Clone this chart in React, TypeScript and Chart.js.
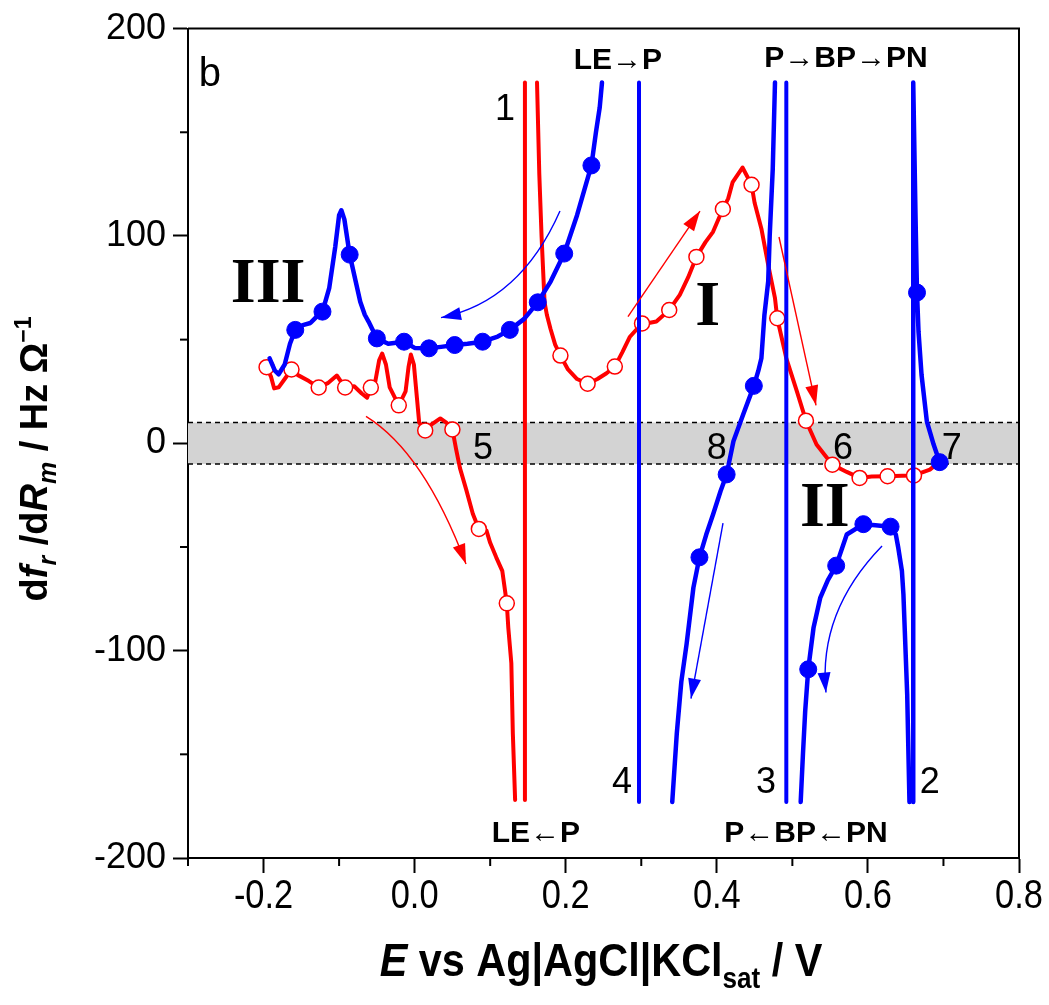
import React, { useEffect, useRef } from "react";
import { Chart, registerables } from "chart.js";
Chart.register(...registerables);

// ---------- axis ticks ----------
const xTickValues = [-0.2, 0, 0.2, 0.4, 0.6, 0.8];
const xMinorTicks = [-0.3, -0.1, 0.1, 0.3, 0.5, 0.7];
const yTickValues = [-200, -100, 0, 100, 200];
const yMinorTicks = [-150, -50, 50, 150];
const bandLimits = [-10, 10];

// ---------- red curve (open circles) ----------
const redLeftE = [-0.196, -0.19, -0.186, -0.18, -0.172, -0.163, -0.155, -0.14, -0.127, -0.115, -0.103, -0.092, -0.08, -0.07, -0.063, -0.058, -0.052, -0.047, -0.043, -0.038, -0.033, -0.021, -0.012, -0.008, -0.005, -0.001, 0.003, 0.006, 0.014, 0.022, 0.034, 0.042, 0.05, 0.055, 0.06, 0.068, 0.077, 0.085, 0.095, 0.1, 0.108, 0.116, 0.122, 0.124, 0.128, 0.13, 0.133];
const redLeftF = [36.7, 32, 26.5, 27, 31, 35.6, 33, 30, 26.9, 29, 32.7, 26.9, 27.5, 24, 22, 26.9, 30, 40, 43.3, 38, 27, 18.3, 25, 37, 42.8, 38, 22, 10, 6.2, 9, 12, 10, 6.7, -3, -12, -22, -34, -41.3, -42, -48, -55, -61.5, -77.2, -89, -106, -140, -172];
const redPoleE = [0.146, 0.146];
const redPoleF = [-172, 174];
const redRightE = [0.162, 0.165, 0.168, 0.172, 0.175, 0.18, 0.186, 0.193, 0.203, 0.215, 0.229, 0.242, 0.254, 0.265, 0.275, 0.285, 0.301, 0.31, 0.32, 0.337, 0.351, 0.362, 0.373, 0.385, 0.395, 0.408, 0.415, 0.421, 0.434, 0.446, 0.45, 0.459, 0.468, 0.477, 0.48, 0.492, 0.506, 0.518, 0.532, 0.553, 0.572, 0.589, 0.605, 0.626, 0.645, 0.661, 0.682, 0.693];
const redRightF = [174, 130, 100, 68, 62, 55, 47.6, 42.3, 35.6, 31, 28.7, 31, 33.8, 37, 44, 51.4, 57.8, 58, 58.7, 64.3, 71.6, 80, 89.9, 97, 102, 113, 118, 126, 133, 124.7, 116, 103.5, 86, 70, 60.3, 41, 25, 10.9, -0.6, -10.3, -13.8, -16.7, -16, -15.9, -15.7, -15.5, -12.7, -9.5];
const redMarkE = [-0.196, -0.163, -0.127, -0.092, -0.058, -0.021, 0.014, 0.05, 0.085, 0.122, 0.193, 0.229, 0.265, 0.301, 0.337, 0.373, 0.408, 0.446, 0.48, 0.518, 0.553, 0.589, 0.626, 0.661];
const redMarkF = [36.7, 35.6, 26.9, 26.9, 26.9, 18.3, 6.2, 6.7, -41.3, -77.2, 42.3, 28.7, 37, 57.8, 64.3, 89.9, 113, 124.7, 60.3, 10.9, -10.3, -16.7, -15.9, -15.5];

// ---------- blue curve (filled circles) ----------
const blueIIIE = [-0.192, -0.185, -0.18, -0.172, -0.165, -0.158, -0.148, -0.138, -0.13, -0.122, -0.113, -0.105, -0.1, -0.097, -0.093, -0.086, -0.078, -0.072, -0.066, -0.061, -0.05, -0.035, -0.014, 0.0, 0.019, 0.035, 0.053, 0.07, 0.09, 0.11, 0.126, 0.145, 0.163, 0.18, 0.198, 0.215, 0.234, 0.24, 0.245, 0.248];
const blueIIIF = [41, 35, 33.3, 38, 48, 54.7, 57, 58, 61, 63.5, 75, 95, 110, 112.4, 108, 91, 78, 68.3, 62, 58.7, 50.6, 48, 49, 46, 45.8, 46.5, 47.4, 48, 49, 51.5, 54.7, 60, 68, 78, 91.5, 110, 134, 150, 162, 174];
const bluePole1E = [0.297, 0.297];
const bluePole1F = [174, -173];
const blueMidE = [0.341, 0.347, 0.353, 0.36, 0.369, 0.377, 0.386, 0.395, 0.405, 0.413, 0.422, 0.435, 0.449, 0.455, 0.459, 0.463, 0.468, 0.47, 0.474, 0.477];
const blueMidF = [-173, -140, -115, -96.8, -69.6, -55, -44, -34.3, -23, -15, 1, 14, 27.7, 35, 41, 61.9, 78, 100, 132, 174];
const bluePole2E = [0.492, 0.492];
const bluePole2F = [174, -173];
const blueIIE = [0.511, 0.514, 0.517, 0.521, 0.528, 0.537, 0.547, 0.558, 0.572, 0.594, 0.61, 0.63, 0.637, 0.64, 0.645, 0.647, 0.652, 0.655];
const blueIIF = [-173, -150, -129, -109, -89, -74.4, -66, -59, -44, -39, -39.5, -40.2, -44, -50, -61.5, -72.7, -121, -173];
const blueEndE = [0.66, 0.66, 0.663, 0.665, 0.667, 0.671, 0.678, 0.687, 0.695];
const blueEndF = [-173, 174, 110, 72.7, 53.8, 33, 10.6, -0.6, -9.1];
const blueMarkE = [-0.158, -0.122, -0.086, -0.05, -0.014, 0.019, 0.053, 0.09, 0.126, 0.163, 0.198, 0.234, 0.377, 0.413, 0.449, 0.521, 0.558, 0.594, 0.63, 0.665, 0.695];
const blueMarkF = [54.7, 63.5, 91, 50.6, 49, 45.8, 47.4, 49, 54.7, 68, 91.5, 134, -55, -15, 27.7, -109, -59, -39, -40.2, 72.7, -9.1];

// ---------- annotation texts (data coordinates) ----------
const SANS = "'Liberation Sans', Arial, sans-serif";
const SERIF = "'Liberation Serif', 'Times New Roman', serif";

const textLabels = [
  { text: "b", x: -0.271, y: 172.1, font: `40px ${SANS}` },
  { text: "1", x: 0.1196, y: 155.8, font: `36px ${SANS}` },
  { text: "LE\u2192P", x: 0.269, y: 180.3, font: `bold 30px ${SANS}` },
  { text: "P\u2192BP\u2192PN", x: 0.571, y: 181.3, font: `bold 30px ${SANS}` },
  { text: "III", x: -0.194, y: 68.3, font: `bold 64px ${SERIF}` },
  { text: "I", x: 0.388, y: 57.2, font: `bold 64px ${SERIF}` },
  { text: "II", x: 0.543, y: -39.9, font: `bold 64px ${SERIF}` },
  { text: "5", x: 0.0905, y: -7.7, font: `36px ${SANS}` },
  { text: "8", x: 0.4, y: -7.7, font: `36px ${SANS}` },
  { text: "6", x: 0.567, y: -7.7, font: `36px ${SANS}` },
  { text: "7", x: 0.711, y: -7.7, font: `36px ${SANS}` },
  { text: "4", x: 0.2745, y: -168.8, font: `36px ${SANS}` },
  { text: "3", x: 0.465, y: -168.8, font: `36px ${SANS}` },
  { text: "2", x: 0.682, y: -168.8, font: `36px ${SANS}` },
  { text: "LE\u2190P", x: 0.1606, y: -192.3, font: `bold 30px ${SANS}` },
  { text: "P\u2190BP\u2190PN", x: 0.518, y: -192.3, font: `bold 30px ${SANS}` },
];

// arrows: start, optional control point, tip (data coordinates)
const arrows = [
  { color: "#0000ff", s: [0.1924, 112.0], c: [0.1395, 68.3], e: [0.0349, 60.6] },
  { color: "#ff0000", s: [0.2824, 61.1], c: null, e: [0.3777, 112.0] },
  { color: "#ff0000", s: [0.4823, 99.5], c: null, e: [0.5313, 18.3] },
  { color: "#ff0000", s: [-0.0644, 13.0], c: [0.0124, -4.3], e: [0.068, -58.2] },
  { color: "#0000ff", s: [0.4082, -38.5], c: null, e: [0.3658, -123.1] },
  { color: "#0000ff", s: [0.6187, -49.5], c: [0.5339, -81.3], e: [0.5445, -120.2] },
];

const RED = "#ff0000";
const BLUE = "#0000ff";

function pts(xs: number[], ys: number[]) {
  return xs.map((x, i) => ({ x, y: ys[i] }));
}

function lineSet(xs: number[], ys: number[], color: string, width: number, order: number) {
  return {
    type: "line" as const,
    data: pts(xs, ys),
    borderColor: color,
    borderWidth: width,
    pointRadius: 0,
    fill: false,
    tension: 0,
    borderJoinStyle: "round" as const,
    borderCapStyle: "round" as const,
    order,
  };
}

type Seg = { t: string; font: string; dy: number };

function drawRich(ctx: CanvasRenderingContext2D, segs: Seg[], cx: number, baseline: number, sx = 1) {
  let total = 0;
  const widths = segs.map((s) => {
    ctx.font = s.font;
    const w = ctx.measureText(s.t).width;
    total += w;
    return w;
  });
  ctx.save();
  ctx.translate(cx, baseline);
  ctx.scale(sx, 1);
  let x = -total / 2;
  ctx.textAlign = "left";
  ctx.textBaseline = "alphabetic";
  segs.forEach((s, i) => {
    ctx.font = s.font;
    ctx.fillText(s.t, x, s.dy);
    x += widths[i];
  });
  ctx.restore();
}

const decorPlugin = {
  id: "decor",
  beforeDatasetsDraw(chart: any) {
    const { ctx, chartArea, scales } = chart;
    const y1 = scales.y.getPixelForValue(bandLimits[1]);
    const y0 = scales.y.getPixelForValue(bandLimits[0]);
    ctx.save();
    ctx.fillStyle = "#d3d3d3";
    ctx.fillRect(chartArea.left, y1, chartArea.right - chartArea.left, y0 - y1);
    ctx.strokeStyle = "#000";
    ctx.lineWidth = 1.5;
    ctx.setLineDash([5, 4]);
    [y0, y1].forEach((yy) => {
      ctx.beginPath();
      ctx.moveTo(chartArea.left, yy);
      ctx.lineTo(chartArea.right, yy);
      ctx.stroke();
    });
    ctx.restore();
  },
  afterDatasetsDraw(chart: any) {
    const { ctx, scales } = chart;
    const X = (v: number) => scales.x.getPixelForValue(v);
    const Y = (v: number) => scales.y.getPixelForValue(v);
    ctx.save();
    arrows.forEach((a) => {
      const sx = X(a.s[0]), sy = Y(a.s[1]);
      const ex = X(a.e[0]), ey = Y(a.e[1]);
      let dx, dy;
      ctx.strokeStyle = a.color;
      ctx.fillStyle = a.color;
      ctx.lineWidth = 1.4;
      ctx.beginPath();
      ctx.moveTo(sx, sy);
      if (a.c) {
        const cx = X(a.c[0]), cy = Y(a.c[1]);
        ctx.quadraticCurveTo(cx, cy, ex, ey);
        dx = ex - cx; dy = ey - cy;
      } else {
        ctx.lineTo(ex, ey);
        dx = ex - sx; dy = ey - sy;
      }
      ctx.stroke();
      const len = Math.hypot(dx, dy);
      const ux = dx / len, uy = dy / len;
      const L = 20, W = 6.5;
      const bx = ex - ux * L, by = ey - uy * L;
      ctx.beginPath();
      ctx.moveTo(ex, ey);
      ctx.lineTo(bx - uy * W, by + ux * W);
      ctx.lineTo(bx + uy * W, by - ux * W);
      ctx.closePath();
      ctx.fill();
    });
    ctx.fillStyle = "#000";
    ctx.textAlign = "center";
    ctx.textBaseline = "alphabetic";
    textLabels.forEach((l) => {
      ctx.font = l.font;
      ctx.fillText(l.text, X(l.x), Y(l.y));
    });
    ctx.restore();
  },
  afterDraw(chart: any) {
    const { ctx, chartArea, scales } = chart;
    ctx.save();
    ctx.strokeStyle = "#000";
    ctx.lineWidth = 2;
    xMinorTicks.forEach((v) => {
      const px = scales.x.getPixelForValue(v);
      ctx.beginPath();
      ctx.moveTo(px, chartArea.bottom);
      ctx.lineTo(px, chartArea.bottom + 8);
      ctx.stroke();
    });
    yMinorTicks.forEach((v) => {
      const py = scales.y.getPixelForValue(v);
      ctx.beginPath();
      ctx.moveTo(chartArea.left - 8, py);
      ctx.lineTo(chartArea.left, py);
      ctx.stroke();
    });
    ctx.beginPath();
    ctx.moveTo(chartArea.left, chartArea.top);
    ctx.lineTo(chartArea.right, chartArea.top);
    ctx.lineTo(chartArea.right, chartArea.bottom);
    ctx.stroke();

    ctx.fillStyle = "#000";
    // x tick labels (condensed)
    xTickValues.forEach((v) => {
      drawRich(ctx, [{ t: v.toFixed(1), font: `40px ${SANS}`, dy: 0 }], scales.x.getPixelForValue(v), 908, 0.86);
    });
    // x axis title
    drawRich(
      ctx,
      [
        { t: "E", font: `italic bold 46px ${SANS}`, dy: 0 },
        { t: " vs Ag|AgCl|KCl", font: `bold 46px ${SANS}`, dy: 0 },
        { t: "sat", font: `bold 29px ${SANS}`, dy: 12 },
        { t: " / V", font: `bold 46px ${SANS}`, dy: 0 },
      ],
      601,
      976,
      0.9
    );
    // y axis title (rotated)
    ctx.save();
    ctx.translate(47, 459);
    ctx.rotate(-Math.PI / 2);
    drawRich(
      ctx,
      [
        { t: "d", font: `bold 38px ${SANS}`, dy: 0 },
        { t: "f", font: `italic bold 38px ${SANS}`, dy: 0 },
        { t: "r", font: `italic bold 25px ${SANS}`, dy: 9 },
        { t: " /d", font: `bold 38px ${SANS}`, dy: 0 },
        { t: "R", font: `italic bold 38px ${SANS}`, dy: 0 },
        { t: "m", font: `italic bold 25px ${SANS}`, dy: 9 },
        { t: " / Hz \u03A9", font: `bold 38px ${SANS}`, dy: 0 },
        { t: "\u22121", font: `bold 23px ${SANS}`, dy: -16 },
      ],
      0,
      0
    );
    ctx.restore();
    ctx.restore();
  },
};

export default function App() {
  const ref = useRef<HTMLCanvasElement>(null);
  useEffect(() => {
    if (!ref.current) return;
    const chart = new Chart(ref.current, {
      type: "line",
      data: {
        datasets: [
          lineSet(redLeftE, redLeftF, RED, 4, 3),
          lineSet(redPoleE, redPoleF, RED, 4, 3),
          lineSet(redRightE, redRightF, RED, 4, 3),
          {
            type: "line",
            data: pts(redMarkE, redMarkF),
            showLine: false,
            pointRadius: 7.5,
            pointBackgroundColor: "#ffffff",
            pointBorderColor: RED,
            pointBorderWidth: 1.5,
            order: 2,
          },
          lineSet(blueIIIE, blueIIIF, BLUE, 4.5, 1),
          lineSet(bluePole1E, bluePole1F, BLUE, 4, 1),
          lineSet(blueMidE, blueMidF, BLUE, 4.5, 1),
          lineSet(bluePole2E, bluePole2F, BLUE, 4, 1),
          lineSet(blueIIE, blueIIF, BLUE, 4.5, 1),
          lineSet(blueEndE, blueEndF, BLUE, 4.5, 1),
          {
            type: "line",
            data: pts(blueMarkE, blueMarkF),
            showLine: false,
            pointRadius: 8.5,
            pointBackgroundColor: BLUE,
            pointBorderColor: BLUE,
            pointBorderWidth: 1,
            order: 0,
          },
        ] as any,
      },
      options: {
        animation: false,
        responsive: false,
        layout: { padding: { top: 26, right: 30, left: 0, bottom: 0 } },
        plugins: { legend: { display: false }, tooltip: { enabled: false } },
        scales: {
          x: {
            type: "linear",
            min: -0.3,
            max: 0.8,
            afterBuildTicks: (s: any) => {
              s.ticks = xTickValues.map((v) => ({ value: v }));
            },
            afterFit: (s: any) => {
              s.height = 147;
            },
            ticks: { display: false, autoSkip: false },
            grid: {
              display: true,
              drawOnChartArea: false,
              drawTicks: true,
              tickLength: 15,
              tickColor: "#000",
              tickWidth: 2,
            },
            border: { display: true, color: "#000", width: 2 },
          },
          y: {
            type: "linear",
            min: -200,
            max: 200,
            afterBuildTicks: (s: any) => {
              s.ticks = yTickValues.map((v) => ({ value: v }));
            },
            afterFit: (s: any) => {
              s.width = 188;
            },
            ticks: {
              color: "#000",
              font: { family: SANS, size: 36 },
              padding: 7,
              autoSkip: false,
              callback: (v: any) => String(v),
            },
            grid: {
              display: true,
              drawOnChartArea: false,
              drawTicks: true,
              tickLength: 15,
              tickColor: "#000",
              tickWidth: 2,
            },
            border: { display: true, color: "#000", width: 2 },
          },
        },
      },
      plugins: [decorPlugin],
    } as any);
    return () => chart.destroy();
  }, []);
  return (
    <div style={{ position: "absolute", left: 0, top: 0, width: 1049, height: 1005, background: "#fff" }}>
      <canvas ref={ref} width={1049} height={1005} style={{ display: "block" }} />
    </div>
  );
}
